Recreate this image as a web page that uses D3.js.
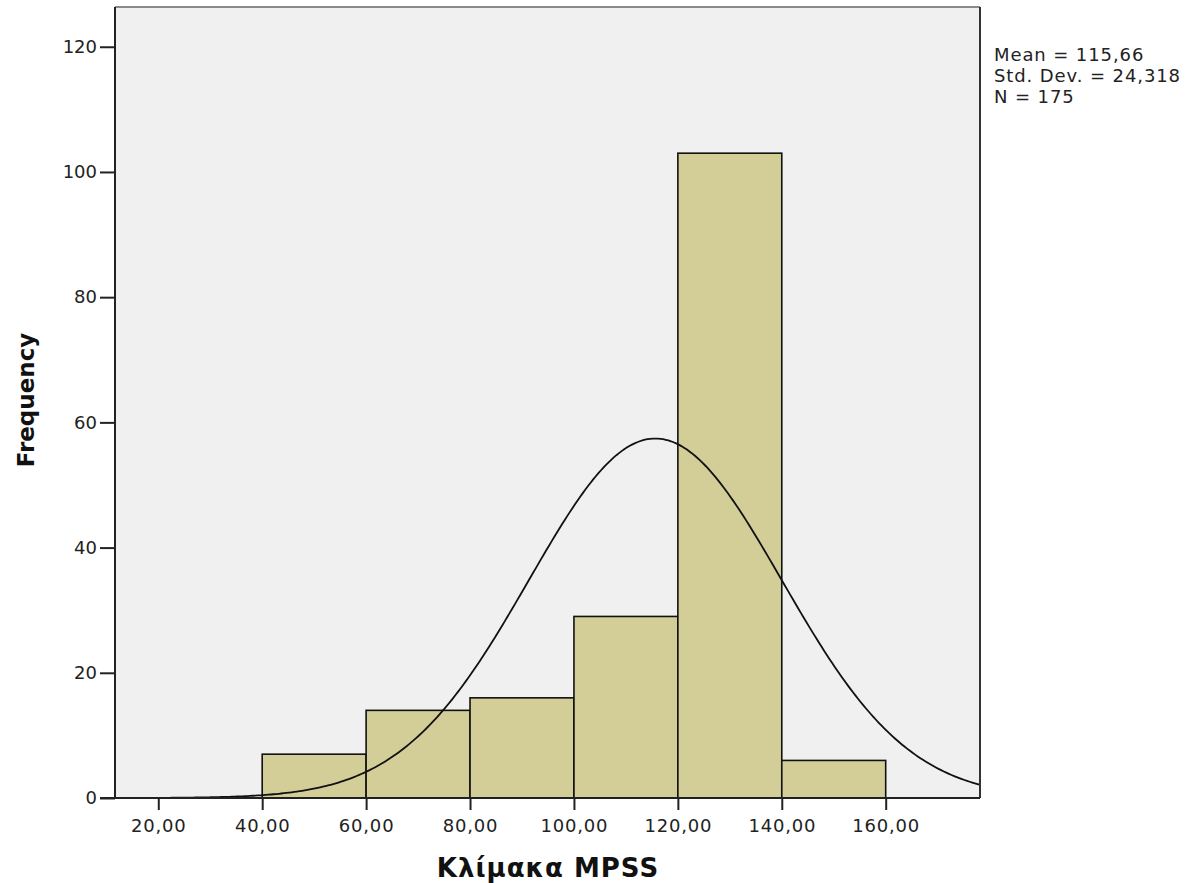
<!DOCTYPE html>
<html>
<head>
<meta charset="utf-8">
<script src="https://cdn.jsdelivr.net/npm/d3@7"></script>
<style>
  html, body { margin: 0; padding: 0; background: #ffffff; }
  svg { display: block; }
</style>
</head>
<body>
<svg id="chart" width="1194" height="883"></svg>
<script>
// Histogram of MPSS scale scores with fitted normal curve
const binStarts = [40, 60, 80, 100, 120, 140];
const binWidth = 20;
const frequencies = [7, 14, 16, 29, 103, 6];
const xTicks = [20, 40, 60, 80, 100, 120, 140, 160];
const yTicks = [0, 20, 40, 60, 80, 100, 120];
const meanValue = 115.66;
const stdDev = 24.318;
const nTotal = 175;
const statsLines = ["Mean = 115,66", "Std. Dev. = 24,318", "N = 175"];

const svg = d3.select("#chart");
const plot = { left: 115, right: 980, top: 7, bottom: 798 };

const x = d3.scaleLinear().domain([11.67, 178.15]).range([plot.left, plot.right]);
const y = d3.scaleLinear().domain([0, 126.35]).range([plot.bottom, plot.top]);

const fmt = v => d3.format(".2f")(v).replace(".", ",");

// plot background
svg.append("rect")
  .attr("x", plot.left).attr("y", plot.top)
  .attr("width", plot.right - plot.left).attr("height", plot.bottom - plot.top)
  .attr("fill", "#f0f0f0");

svg.append("defs").append("clipPath").attr("id", "plotClip")
  .append("rect")
  .attr("x", plot.left).attr("y", plot.top)
  .attr("width", plot.right - plot.left).attr("height", plot.bottom - plot.top);

// bars
svg.append("g").selectAll("rect")
  .data(binStarts.map((s, i) => ({ s, f: frequencies[i] })))
  .join("rect")
  .attr("x", d => x(d.s))
  .attr("y", d => y(d.f))
  .attr("width", d => x(d.s + binWidth) - x(d.s))
  .attr("height", d => y(0) - y(d.f))
  .attr("fill", "#d3ce97")
  .attr("stroke", "#111")
  .attr("stroke-width", 1.6);

// normal curve scaled to counts
const density = v => nTotal * binWidth / (stdDev * Math.sqrt(2 * Math.PI)) *
  Math.exp(-0.5 * Math.pow((v - meanValue) / stdDev, 2));
const curvePts = d3.range(x.domain()[0], x.domain()[1] + 0.5, 0.5).map(v => [v, density(v)]);
svg.append("path")
  .datum(curvePts)
  .attr("clip-path", "url(#plotClip)")
  .attr("fill", "none")
  .attr("stroke", "#111")
  .attr("stroke-width", 1.8)
  .attr("d", d3.line().x(d => x(d[0])).y(d => y(d[1])));

// frame
svg.append("line").attr("x1", plot.left).attr("x2", plot.right)
  .attr("y1", plot.top).attr("y2", plot.top)
  .attr("stroke", "#8a8a8a").attr("stroke-width", 2);
svg.append("line").attr("x1", plot.right).attr("x2", plot.right)
  .attr("y1", plot.top).attr("y2", plot.bottom)
  .attr("stroke", "#333").attr("stroke-width", 2);

const tickFont = "'DejaVu Sans', Verdana, sans-serif";

// y axis
const yAxis = d3.axisLeft(y).tickValues(yTicks).tickSize(15).tickPadding(3).tickFormat(d3.format("d"));
const gy = svg.append("g").attr("transform", `translate(${plot.left},0)`).call(yAxis);
gy.select(".domain").attr("stroke", "#222").attr("stroke-width", 2)
  .attr("d", `M0,${plot.top}V${plot.bottom}`);
gy.selectAll(".tick line").attr("stroke", "#222").attr("stroke-width", 2);
gy.selectAll(".tick text").attr("fill", "#222")
  .style("font-family", tickFont).style("font-size", "18px");

// x axis
const xAxis = d3.axisBottom(x).tickValues(xTicks).tickSize(12).tickPadding(9).tickFormat(fmt);
const gx = svg.append("g").attr("transform", `translate(0,${plot.bottom})`).call(xAxis);
gx.select(".domain").attr("stroke", "#222").attr("stroke-width", 2)
  .attr("d", `M${plot.left - 15},0H${plot.right}`);
gx.selectAll(".tick line").attr("stroke", "#222").attr("stroke-width", 2);
gx.selectAll(".tick text").attr("fill", "#222")
  .style("font-family", tickFont).style("font-size", "18px")
  .style("letter-spacing", "0.8px");

// axis titles
svg.append("text")
  .attr("x", 548).attr("y", 877)
  .attr("text-anchor", "middle")
  .style("font-family", "'DejaVu Sans', Verdana, sans-serif")
  .style("font-weight", "bold").style("font-size", "26px")
  .style("letter-spacing", "1px")
  .attr("fill", "#111")
  .text("Κλίμακα MPSS");

svg.append("text")
  .attr("transform", "translate(34,400) rotate(-90)")
  .attr("text-anchor", "middle")
  .style("font-family", "'DejaVu Sans', Verdana, sans-serif")
  .style("font-weight", "bold").style("font-size", "23px")
  .attr("fill", "#111")
  .text("Frequency");

// statistics
svg.append("g").selectAll("text")
  .data(statsLines)
  .join("text")
  .attr("x", 994)
  .attr("y", (d, i) => 61 + i * 21)
  .style("font-family", "'DejaVu Sans', Verdana, sans-serif")
  .style("font-size", "18px")
  .style("letter-spacing", "0.9px")
  .attr("fill", "#222")
  .text(d => d);
</script>
</body>
</html>
